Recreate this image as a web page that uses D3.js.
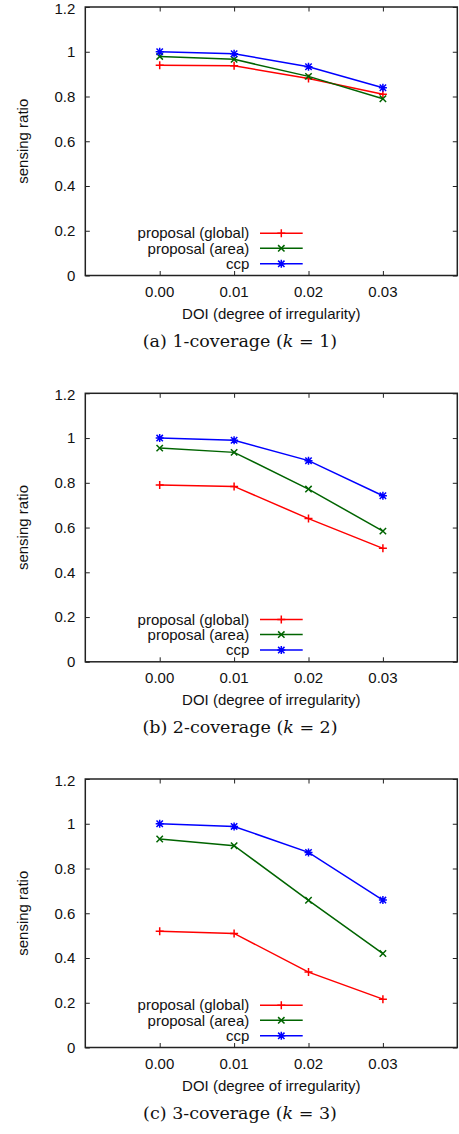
<!DOCTYPE html>
<html>
<head>
<meta charset="utf-8">
<script src="https://cdn.jsdelivr.net/npm/d3@7"></script>
<style>
  html, body { margin: 0; padding: 0; background: #fff; }
  svg { display: block; }
  .sans { font-family: "Liberation Sans", Arial, sans-serif; font-size: 15px; fill: #111; }
  .cap { font-family: "DejaVu Serif", serif; font-size: 17.5px; fill: #111; }
</style>
</head>
<body>
<svg id="chart" width="459" height="1134"></svg>
<script>
// ---- data ----
const doiValues = [0, 0.01, 0.02, 0.03];
const xTickLabels = ["0.00", "0.01", "0.02", "0.03"];
const yTickValues = [0, 0.2, 0.4, 0.6, 0.8, 1, 1.2];
const seriesNames = ["proposal (global)", "proposal (area)", "ccp"];

const k1Global = [0.94, 0.937, 0.88, 0.81];
const k1Area   = [0.979, 0.966, 0.89, 0.79];
const k1Ccp    = [1.0, 0.991, 0.933, 0.839];

const k2Global = [0.79, 0.784, 0.64, 0.507];
const k2Area   = [0.955, 0.936, 0.772, 0.584];
const k2Ccp    = [1.0, 0.99, 0.899, 0.742];

const k3Global = [0.52, 0.51, 0.337, 0.216];
const k3Area   = [0.932, 0.902, 0.658, 0.42];
const k3Ccp    = [1.0, 0.988, 0.872, 0.659];

const captionLetters = ["(a)", "(b)", "(c)"];
const coverageK = [1, 2, 3];

// ---- styling / layout ----
const colors = ["#ff0000", "#006400", "#0000ff"];
const markers = ["plus", "cross", "star"];
const panels = [
  [k1Global, k1Area, k1Ccp],
  [k2Global, k2Area, k2Ccp],
  [k3Global, k3Area, k3Ccp]
];
const panelOffsets = [0, 386.3, 772];
const L = 85.3, R = 457.3, T = 7, B = 275.5;
const tickLen = 4.5;

const svg = d3.select("#chart");
const x = d3.scaleLinear().domain([-0.01, 0.04]).range([L, R]);
const y = d3.scaleLinear().domain([0, 1.2]).range([B, T]);

function drawMarker(g, type, cx, cy, color) {
  const s = 4, c = 3.2;
  const p = d3.path();
  if (type === "plus" || type === "star") {
    p.moveTo(cx - s, cy); p.lineTo(cx + s, cy);
    p.moveTo(cx, cy - s); p.lineTo(cx, cy + s);
  }
  if (type === "cross" || type === "star") {
    p.moveTo(cx - c, cy - c); p.lineTo(cx + c, cy + c);
    p.moveTo(cx - c, cy + c); p.lineTo(cx + c, cy - c);
  }
  g.append("path").attr("d", p.toString()).attr("stroke", color)
    .attr("stroke-width", 1.5).attr("fill", "none");
}

panels.forEach((series, pi) => {
  const g = svg.append("g").attr("transform", `translate(0,${panelOffsets[pi]})`);

  // inward ticks (left/right, bottom/top)
  const axL = d3.axisRight(y).tickValues(yTickValues).tickSize(tickLen).tickFormat("");
  const axR = d3.axisLeft(y).tickValues(yTickValues).tickSize(tickLen).tickFormat("");
  const axB = d3.axisTop(x).tickValues(doiValues).tickSize(tickLen).tickFormat("");
  const axT = d3.axisBottom(x).tickValues(doiValues).tickSize(tickLen).tickFormat("");
  [[axL, `translate(${L},0)`], [axR, `translate(${R},0)`],
   [axB, `translate(0,${B})`], [axT, `translate(0,${T})`]].forEach(([ax, tr]) => {
    const a = g.append("g").attr("transform", tr).call(ax);
    a.select(".domain").remove();
    a.selectAll("line").attr("stroke", "#222").attr("stroke-width", 1);
  });

  // tick labels
  g.selectAll(".ylab").data(yTickValues).enter().append("text")
    .attr("class", "sans").attr("x", L - 10)
    .attr("y", d => y(d) + (d === 1.2 ? 1.5 : 0)).attr("dy", "0.35em")
    .attr("text-anchor", "end").text(d => d3.format("~g")(d));
  g.selectAll(".xlab").data(doiValues).enter().append("text")
    .attr("class", "sans").attr("x", d => x(d)).attr("y", B + 16.2).attr("dy", "0.35em")
    .attr("text-anchor", "middle").text((d, i) => xTickLabels[i]);

  // axis titles
  g.append("text").attr("class", "sans")
    .attr("transform", `translate(23,${(T + B) / 2}) rotate(-90)`)
    .attr("dy", "0.35em").attr("text-anchor", "middle").text("sensing ratio");
  g.append("text").attr("class", "sans")
    .attr("x", (L + R) / 2).attr("y", B + 37.8).attr("dy", "0.35em")
    .attr("text-anchor", "middle").text("DOI (degree of irregularity)");

  // series
  const line = d3.line().x((d, i) => x(doiValues[i])).y(d => y(d));
  series.forEach((vals, si) => {
    g.append("path").datum(vals).attr("d", line)
      .attr("fill", "none").attr("stroke", colors[si]).attr("stroke-width", 1.5);
    vals.forEach((v, i) => drawMarker(g, markers[si], x(doiValues[i]), y(v), colors[si]));
  });

  // legend
  const legOff = [-42.3, -27.2, -11.7];
  seriesNames.forEach((name, si) => {
    const ly = B + legOff[si];
    g.append("text").attr("class", "sans").attr("x", 249.3).attr("y", ly)
      .attr("dy", "0.35em").attr("text-anchor", "end").text(name);
    g.append("line").attr("x1", 260).attr("x2", 302.7).attr("y1", ly).attr("y2", ly)
      .attr("stroke", colors[si]).attr("stroke-width", 1.5);
    drawMarker(g, markers[si], 281.3, ly, colors[si]);
  });

  // frame
  g.append("rect").attr("x", L).attr("y", T).attr("width", R - L).attr("height", B - T)
    .attr("fill", "none").attr("stroke", "#222").attr("stroke-width", 1.5);

  // caption
  const cap = g.append("text").attr("class", "cap").attr("x", 240).attr("y", B + 71)
    .attr("text-anchor", "middle");
  cap.append("tspan").text(`${captionLetters[pi]} ${coverageK[pi]}-coverage (`);
  cap.append("tspan").attr("font-style", "italic").text("k");
  cap.append("tspan").text(` = ${coverageK[pi]})`);
});
</script>
</body>
</html>
